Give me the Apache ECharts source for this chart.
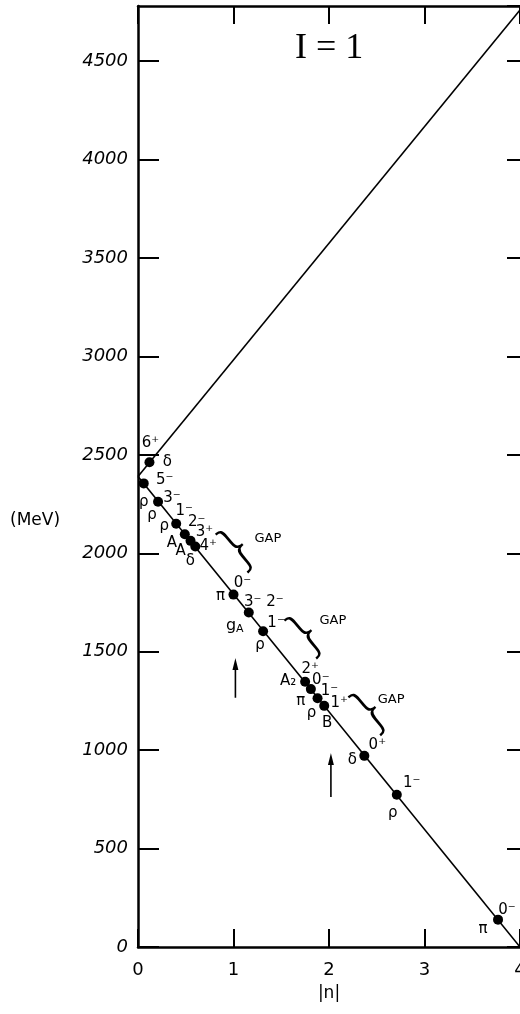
<!DOCTYPE html>
<html>
<head>
<meta charset="utf-8">
<script src="https://cdn.jsdelivr.net/npm/echarts@6/dist/echarts.min.js"></script>
<style>
  html, body { margin: 0; padding: 0; background: #fff; }
  #chart { width: 520px; height: 1014px; }
</style>
</head>
<body>
<div id="chart"></div>
<script>
// trajectory lines, [|n|, MeV]
const descLine = [[0, 2390], [4, 0]];
const ascLine = [[0, 2390], [4, 4760]];

// I = 1 mesons placed on the lines
const nVals = [0.06, 0.12, 0.21, 0.40, 0.49, 0.55, 0.60, 1.00, 1.16, 1.31, 1.75, 1.81, 1.88, 1.95, 2.37, 2.71, 3.77];
const massVals = [2355, 2462, 2262, 2150, 2097, 2063, 2034, 1790, 1699, 1604, 1347, 1310, 1264, 1225, 971, 773, 139];
const jpLabels = ['5⁻', '6⁺', '3⁻', '1⁻', '2⁻', '3⁺', '4⁺', '0⁻', '3⁻ 2⁻', '1⁻', '2⁺', '0⁻', '1⁻', '1⁺', '0⁺', '1⁻', '0⁻'];
const names = ['ρ', 'δ', 'ρ', 'ρ', 'A', 'A', 'δ', 'π', 'g_A', 'ρ', 'A₂', 'π', 'ρ', 'B', 'δ', 'ρ', 'π'];

// "GAP" notes with their braces
const gapN = [1.36, 2.04, 2.65];
const gapMass = [2072, 1656, 1256];
const braceN = [1.06, 1.78, 2.45];
const braceMass = [2017, 1580, 1190];

// upward arrows
const arrowN = [1.02, 2.02];
const arrowLow = [1266, 762];
const arrowTip = [1468, 986];

// label placement (pixels from the dot)
const jpOffset = [[21, -3], [1, -19], [14, -4], [8, -13], [12, -12], [14, -9], [13, 0], [9, -12], [15, -10], [13, -8], [5, -13], [10, -9], [12, -7], [15, -3], [13, -11], [15, -12], [9, -10]];
const nameOffset = [[0, 19], [18, 0], [-6, 13], [-12, 2], [-13, 9], [-10, 10], [-5, 15], [-13, 1], [-14, 13], [-3, 14], [-17, -1], [-10, 12], [-6, 15], [3, 17], [-12, 4], [-4, 18], [-15, 9]];

const ink = '#000';
const chart = echarts.init(document.getElementById('chart'), null, { renderer: 'canvas' });

const fmtName = (s) => (s === 'g_A' ? '{a|g}{s|A}' : s);
const solid = { color: ink, opacity: 1 };

chart.setOption({
  animation: false,
  backgroundColor: '#fff',
  textStyle: { fontFamily: 'DejaVu Sans', color: ink },
  title: [
    { text: 'I = 1', left: 290, top: 26, textStyle: { fontFamily: 'Liberation Serif', fontSize: 36, fontWeight: 'normal', color: ink } },
    { text: '(MeV)', left: 5, top: 507, textStyle: { fontSize: 17, fontWeight: 'normal', color: ink } },
  ],
  grid: { left: 138, right: 0, top: 6, bottom: 67, outerBoundsMode: 'none', containLabel: false },
  xAxis: [
    {
      type: 'value', min: 0, max: 4, interval: 1, position: 'bottom',
      axisLine: { onZero: false, lineStyle: { color: ink, width: 2.5 } },
      axisTick: { inside: true, length: 18, lineStyle: { color: ink, width: 2 } },
      axisLabel: { color: ink, fontSize: 18, margin: 14 },
      splitLine: { show: false },
      name: '|n|', nameLocation: 'middle', nameGap: 38,
      nameTextStyle: { color: ink, fontSize: 17 },
    },
    {
      type: 'value', min: 0, max: 4, interval: 1, position: 'top',
      axisLine: { onZero: false, lineStyle: { color: ink, width: 2.5 } },
      axisTick: { inside: true, length: 18, lineStyle: { color: ink, width: 2 } },
      axisLabel: { show: false },
      splitLine: { show: false },
    },
  ],
  yAxis: [
    {
      type: 'value', min: 0, max: 4780, interval: 500, position: 'left',
      axisLine: { onZero: false, lineStyle: { color: ink, width: 2.5 } },
      axisTick: { inside: true, length: 21, lineStyle: { color: ink, width: 2 } },
      axisLabel: {
        color: ink, fontSize: 18, fontStyle: 'italic', margin: 10, showMaxLabel: false,
        formatter: (v) => (v % 500 === 0 ? String(v) : ''),
      },
      splitLine: { show: false },
    },
    {
      type: 'value', min: 0, max: 4780, interval: 500, position: 'right',
      axisLine: { show: false, onZero: false },
      axisTick: { inside: true, length: 13, lineStyle: { color: ink, width: 2 } },
      axisLabel: { show: false },
      splitLine: { show: false },
    },
  ],
  series: [
    { type: 'line', data: descLine, symbol: 'none', lineStyle: { color: ink, width: 1.6 } },
    { type: 'line', data: ascLine, symbol: 'none', lineStyle: { color: ink, width: 1.6 } },
    {
      type: 'scatter', symbolSize: 10, itemStyle: solid,
      data: nVals.map((n, i) => [n, massVals[i]]), z: 5,
    },
    {
      type: 'scatter', symbolSize: 0, z: 6, itemStyle: solid,
      label: { show: true, position: 'inside', color: ink, fontSize: 15, formatter: (p) => jpLabels[p.dataIndex] },
      data: nVals.map((n, i) => ({ value: [n, massVals[i]], label: { offset: jpOffset[i] } })),
    },
    {
      type: 'scatter', symbolSize: 0, z: 6, itemStyle: solid,
      label: {
        show: true, position: 'inside', color: ink, fontSize: 15,
        formatter: (p) => fmtName(names[p.dataIndex]),
        rich: { a: { fontSize: 16, color: ink }, s: { fontSize: 11, color: ink, verticalAlign: 'bottom', padding: [8, 0, 0, 0] } },
      },
      data: nVals.map((n, i) => ({ value: [n, massVals[i]], label: { offset: nameOffset[i] } })),
    },
    {
      type: 'scatter', symbolSize: 0, itemStyle: solid,
      label: { show: true, position: 'inside', color: ink, fontSize: 13, formatter: 'GAP' },
      data: gapN.map((n, i) => [n, gapMass[i]]),
    },
    {
      type: 'scatter', symbolSize: 0, itemStyle: solid,
      label: { show: true, position: 'inside', color: ink, fontSize: 56, fontWeight: 200, rotate: 40, formatter: '}' },
      data: braceN.map((n, i) => [n, braceMass[i]]),
    },
    ...arrowN.map((n, i) => ({
      type: 'line', symbol: 'none', lineStyle: { color: ink, width: 1.6 },
      data: [[n, arrowLow[i]], [n, arrowTip[i] - 30]],
    })),
    {
      type: 'scatter', symbol: 'triangle', symbolSize: [6, 12], symbolOffset: [0, 6],
      itemStyle: solid,
      data: arrowN.map((n, i) => [n, arrowTip[i]]),
    },
  ],
});
</script>
</body>
</html>
